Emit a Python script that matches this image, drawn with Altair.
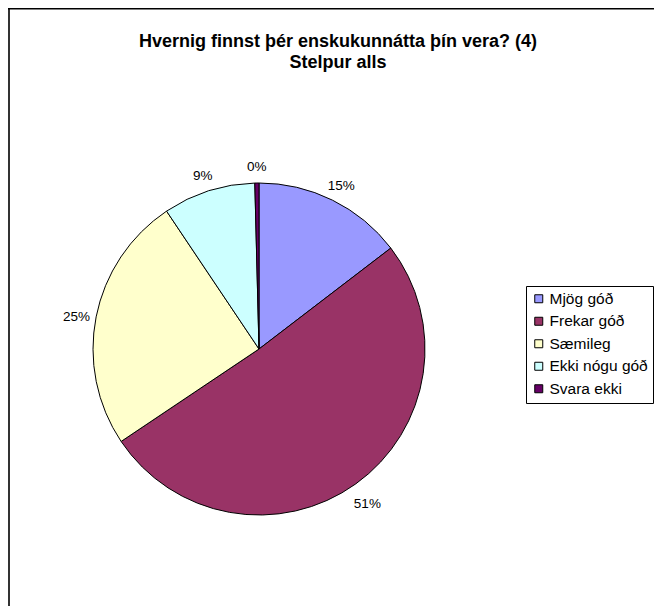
import altair as alt
import pandas as pd

categories = ["Mjög góð", "Frekar góð", "Sæmileg", "Ekki nógu góð", "Svara ekki"]
values = [14.6, 51.0, 25.0, 9.0, 0.4]
labels = ["15%", "51%", "25%", "9%", "0%"]
colors = ["#9999FF", "#993366", "#FFFFCC", "#CCFFFF", "#660066"]
title_lines = ["Hvernig finnst þér enskukunnátta þín vera? (4)", "Stelpur alls"]

FONT = "Liberation Sans"
W, H = 646, 598
CX, CY, R = 251, 341, 166

df = pd.DataFrame({"cat": categories, "val": values, "label": labels,
                   "idx": list(range(len(categories)))})
tdf = pd.DataFrame({"t": title_lines, "i": list(range(len(title_lines)))})
one = pd.DataFrame({"k": [0]})

base = alt.Chart(df).encode(
    theta=alt.Theta("val:Q", stack=True),
    order=alt.Order("idx:Q", sort="ascending"),
)

pie = base.mark_arc(radius=R, stroke="black", strokeWidth=1).encode(
    color=alt.Color(
        "cat:N",
        sort=categories,
        scale=alt.Scale(domain=categories, range=colors),
        legend=alt.Legend(
            title=None,
            orient="none",
            legendX=518,
            legendY=278,
            strokeColor="black",
            padding=5,
            fillColor="white",
            symbolType="square",
            symbolSize=64,
            symbolStrokeColor="black",
            symbolStrokeWidth=1,
            symbolOpacity=1,
            labelFont=FONT,
            labelFontSize=15.5,
            labelColor="black",
            labelLimit=300,
            rowPadding=5.5,
            labelOffset=3,
        ),
    ),
    x=alt.value(CX),
    y=alt.value(CY),
)

text = base.mark_text(radius=186, font=FONT, fontSize=13.5, color="black").encode(
    text="label:N",
    x=alt.value(CX),
    y=alt.value(CY + 4),
)

title = alt.Chart(tdf).transform_calculate(
    yy="34 + datum.i * 21"
).mark_text(font=FONT, fontSize=18, fontWeight="bold", color="black").encode(
    text="t:N",
    x=alt.value(330),
    y=alt.Y("yy:Q", scale=None, axis=None),
)

left_line = alt.Chart(one).mark_rule(color="#333333", strokeWidth=2).encode(
    x=alt.value(1), y=alt.value(0), y2=alt.value(H)
)
top_line = alt.Chart(one).mark_rule(color="black", strokeWidth=1.5).encode(
    y=alt.value(0.75), x=alt.value(0), x2=alt.value(W)
)

chart = alt.layer(pie, text, title, left_line, top_line).properties(
    width=W,
    height=H,
    padding=0,
    autosize=alt.AutoSizeParams(type="none"),
    background="white",
).configure_view(stroke=None)

chart.save("out.html", embed_options={"renderer": "svg", "actions": False})
